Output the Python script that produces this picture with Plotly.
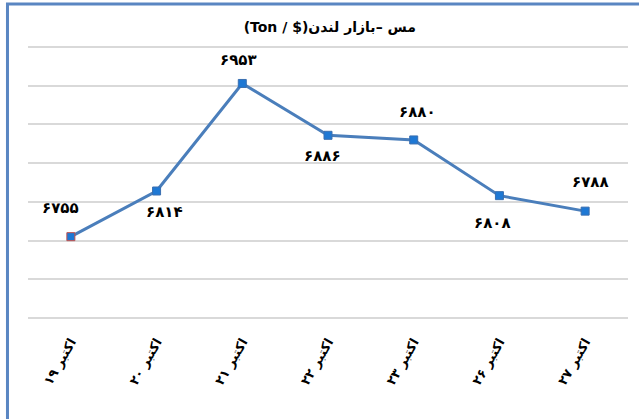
import plotly.graph_objects as go

categories = ["اکتبر ۱۹", "اکتبر ۲۰", "اکتبر ۲۱", "اکتبر ۲۲", "اکتبر ۲۳", "اکتبر ۲۶", "اکتبر ۲۷"]
prices = [6755, 6814, 6953, 6886, 6880, 6808, 6788]
grid_values = [6650, 6700, 6750, 6800, 6850, 6900, 6950, 7000]
# visual order: Latin unit on the left, Persian words to the right
title_text = "(Ton / $)مس –بازار لندن"

# label placement (pixel offsets) - style only
label_dx = [-10, 8, -4, -6, 4, -7, 5]
label_dy = [29, -21, 23, -21, 28, -27, 29]

def fa_digits(n):
    return str(n).translate(str.maketrans("0123456789", "۰۱۲۳۴۵۶۷۸۹"))

marker_line_colors = ["#C0504D"] + ["#3A6FB0"] * (len(prices) - 1)

fig = go.Figure()
fig.add_trace(go.Scatter(
    x=categories, y=prices, mode="lines+markers",
    line=dict(color="#4A7EBB", width=3),
    marker=dict(symbol="square", size=8, color="#1E78D4",
                line=dict(color=marker_line_colors, width=1)),
    hoverinfo="skip", showlegend=False,
))

for c, v, dx, dy in zip(categories, prices, label_dx, label_dy):
    fig.add_annotation(x=c, y=v, text=fa_digits(v), showarrow=False,
                       xshift=dx, yshift=dy,
                       font=dict(family="DejaVu Sans", size=15, color="#000000", weight="bold"))

fig.update_layout(
    width=639, height=419,
    margin=dict(l=28, r=11, t=44, b=98),
    paper_bgcolor="white", plot_bgcolor="white",
    title=dict(text=title_text, x=0.503, xref="paper", y=1 - 27 / 419, yanchor="middle",
               xanchor="center",
               font=dict(family="DejaVu Sans", size=14, color="#000000", weight="bold")),
    xaxis=dict(showgrid=False, showline=False, ticks="", tickangle=-60,
               ticklabelstandoff=10,
               tickfont=dict(family="DejaVu Sans", size=13, color="#000000", weight="bold"),
               range=[-0.5, len(categories) - 0.5]),
    yaxis=dict(range=[6646, 7004], tickvals=grid_values,
               showgrid=True, gridcolor="#D9D9D9", gridwidth=1.5,
               showticklabels=False, zeroline=False, showline=False, ticks=""),
    shapes=[dict(type="rect", xref="paper", yref="paper",
                 x0=-0.0342, x1=1.3, y0=-0.6, y1=(321 - 4) / 277,
                 line=dict(color="#5A86C2", width=3), fillcolor="rgba(0,0,0,0)", layer="above")],
)

fig.write_html("out.html", config={"displayModeBar": False},
               post_script="document.body.style.margin='0';document.body.style.overflow='hidden';")
